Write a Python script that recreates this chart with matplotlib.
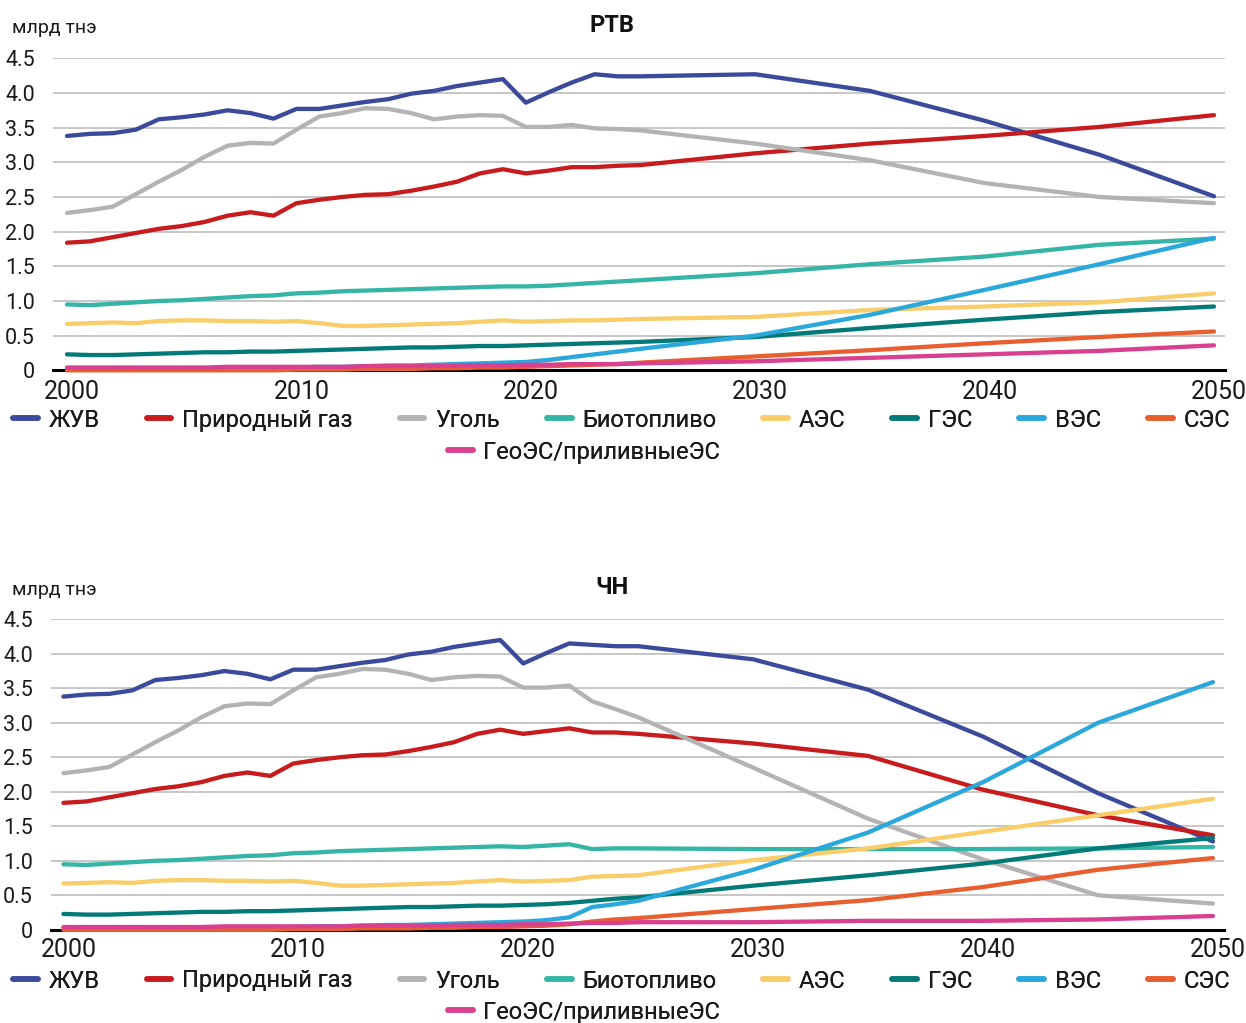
import matplotlib
matplotlib.use("Agg")
import matplotlib.pyplot as plt
from matplotlib.lines import Line2D
from matplotlib.transforms import ScaledTranslation

# ---------------- data ----------------
years = list(range(2000, 2026)) + [2030, 2035, 2040, 2045, 2050]

# historical 2000-2019 (shared by both scenarios)
oil_hist = [3.38, 3.41, 3.42, 3.47, 3.62, 3.65, 3.69, 3.75, 3.71, 3.63, 3.77, 3.77, 3.82, 3.87, 3.91, 3.99, 4.03, 4.10, 4.15, 4.20]
gas_hist = [1.84, 1.86, 1.92, 1.98, 2.04, 2.08, 2.14, 2.23, 2.28, 2.23, 2.41, 2.46, 2.50, 2.53, 2.54, 2.59, 2.65, 2.72, 2.84, 2.90]
coal_hist = [2.27, 2.31, 2.36, 2.54, 2.72, 2.89, 3.08, 3.24, 3.28, 3.27, 3.47, 3.66, 3.71, 3.78, 3.77, 3.71, 3.62, 3.66, 3.68, 3.67]
bio_hist = [0.95, 0.94, 0.96, 0.98, 1.00, 1.01, 1.03, 1.05, 1.07, 1.08, 1.11, 1.12, 1.14, 1.15, 1.16, 1.17, 1.18, 1.19, 1.20, 1.21]
npp_hist = [0.67, 0.68, 0.69, 0.68, 0.71, 0.72, 0.72, 0.71, 0.71, 0.70, 0.71, 0.68, 0.64, 0.64, 0.65, 0.66, 0.67, 0.68, 0.70, 0.72]
hydro_hist = [0.23, 0.22, 0.22, 0.23, 0.24, 0.25, 0.26, 0.26, 0.27, 0.27, 0.28, 0.29, 0.30, 0.31, 0.32, 0.33, 0.33, 0.34, 0.35, 0.35]
wind_hist = [0.01, 0.01, 0.01, 0.01, 0.02, 0.02, 0.02, 0.03, 0.03, 0.03, 0.04, 0.05, 0.05, 0.06, 0.07, 0.07, 0.08, 0.09, 0.10, 0.11]
solar_hist = [0.00, 0.00, 0.00, 0.00, 0.00, 0.00, 0.00, 0.00, 0.00, 0.00, 0.01, 0.01, 0.01, 0.02, 0.02, 0.02, 0.03, 0.03, 0.04, 0.04]
geo_hist = [0.04, 0.04, 0.04, 0.04, 0.04, 0.04, 0.04, 0.05, 0.05, 0.05, 0.05, 0.05, 0.05, 0.06, 0.06, 0.06, 0.06, 0.07, 0.07, 0.07]

# scenario РТВ: 2020-2025, 2030, 2035, 2040, 2045, 2050
oil_rtv = [3.86, 4.01, 4.15, 4.27, 4.24, 4.24, 4.27, 4.03, 3.60, 3.11, 2.51]
gas_rtv = [2.84, 2.88, 2.93, 2.93, 2.95, 2.96, 3.13, 3.27, 3.38, 3.51, 3.68]
coal_rtv = [3.51, 3.51, 3.54, 3.49, 3.48, 3.46, 3.27, 3.03, 2.70, 2.50, 2.41]
bio_rtv = [1.21, 1.22, 1.24, 1.26, 1.28, 1.30, 1.40, 1.53, 1.64, 1.81, 1.90]
npp_rtv = [0.70, 0.71, 0.72, 0.72, 0.73, 0.74, 0.77, 0.87, 0.92, 0.98, 1.11]
hydro_rtv = [0.36, 0.37, 0.38, 0.39, 0.40, 0.41, 0.48, 0.61, 0.73, 0.84, 0.92]
wind_rtv = [0.12, 0.15, 0.19, 0.23, 0.27, 0.31, 0.50, 0.80, 1.16, 1.53, 1.91]
solar_rtv = [0.05, 0.06, 0.07, 0.08, 0.09, 0.11, 0.20, 0.29, 0.39, 0.48, 0.56]
geo_rtv = [0.08, 0.08, 0.09, 0.09, 0.09, 0.10, 0.13, 0.18, 0.23, 0.28, 0.36]

# scenario ЧН
oil_ch = [3.86, 4.01, 4.15, 4.13, 4.11, 4.11, 3.92, 3.48, 2.80, 1.98, 1.28]
gas_ch = [2.84, 2.88, 2.92, 2.86, 2.86, 2.84, 2.70, 2.52, 2.03, 1.66, 1.37]
coal_ch = [3.51, 3.51, 3.54, 3.31, 3.20, 3.08, 2.35, 1.61, 1.02, 0.50, 0.38]
bio_ch = [1.20, 1.22, 1.24, 1.17, 1.18, 1.18, 1.17, 1.17, 1.17, 1.18, 1.20]
npp_ch = [0.70, 0.71, 0.72, 0.77, 0.78, 0.79, 1.01, 1.18, 1.42, 1.66, 1.90]
hydro_ch = [0.36, 0.37, 0.39, 0.42, 0.45, 0.47, 0.64, 0.79, 0.96, 1.18, 1.33]
wind_ch = [0.12, 0.14, 0.18, 0.33, 0.37, 0.42, 0.87, 1.41, 2.14, 3.00, 3.59]
solar_ch = [0.05, 0.06, 0.08, 0.12, 0.15, 0.17, 0.30, 0.43, 0.62, 0.87, 1.04]
geo_ch = [0.08, 0.08, 0.09, 0.10, 0.10, 0.11, 0.11, 0.13, 0.13, 0.15, 0.20]

names = ["ЖУВ", "Природный газ", "Уголь", "Биотопливо", "АЭС", "ГЭС", "ВЭС", "СЭС", "ГеоЭС/приливныеЭС"]
colors = ["#3c4a9c", "#c81b1d", "#b3b3b3", "#34b5a5", "#f8cd6a", "#047a78", "#2aa7db", "#e95e2f", "#d9408f"]

titles = ["РТВ", "ЧН"]
y_ticks = [0, 0.5, 1.0, 1.5, 2.0, 2.5, 3.0, 3.5, 4.0, 4.5]
y_tick_labels = ["0", "0.5", "1.0", "1.5", "2.0", "2.5", "3.0", "3.5", "4.0", "4.5"]
x_ticks = [2000, 2010, 2020, 2030, 2040, 2050]
unit_label = "млрд тнэ"

hist = [oil_hist, gas_hist, coal_hist, bio_hist, npp_hist, hydro_hist, wind_hist, solar_hist, geo_hist]
rtv = [oil_rtv, gas_rtv, coal_rtv, bio_rtv, npp_rtv, hydro_rtv, wind_rtv, solar_rtv, geo_rtv]
chn = [oil_ch, gas_ch, coal_ch, bio_ch, npp_ch, hydro_ch, wind_ch, solar_ch, geo_ch]

plt.rcParams["font.family"] = ["Roboto", "DejaVu Sans"]

W, H = 1246, 1023
fig = plt.figure(figsize=(W / 100, H / 100), dpi=100)

panels = [
    dict(rect=(53, 58.3, 1225, 370.3), xlim=(1999.39, 2050.48), title_y=26, unit_y=28,
         leg1_y=420, leg2_y=452, data=rtv, xpad=7),
    dict(rect=(51, 619.3, 1224, 929.8), xlim=(1999.46, 2050.48), title_y=587, unit_y=590,
         leg1_y=981, leg2_y=1012, data=chn, xpad=6),
]

for p, title in zip(panels, titles):
    x0, y0, x1, y1 = p["rect"]
    ax = fig.add_axes([x0 / W, 1 - y1 / H, (x1 - x0) / W, (y1 - y0) / H])
    for i, (nm, col) in enumerate(zip(names, colors)):
        vals = hist[i] + p["data"][i]
        ax.plot(years, vals, color=col, lw=3.1, solid_capstyle="round",
                solid_joinstyle="round", zorder=3 + i, clip_on=False)
    ax.set_xlim(*p["xlim"])
    ax.set_ylim(0, 4.5)
    ax.set_yticks(y_ticks)
    ax.set_yticklabels(y_tick_labels)
    ax.set_xticks(x_ticks)
    ax.set_xticklabels([str(x) for x in x_ticks])
    ax.grid(axis="y", color="#bdbdbd", lw=1.2, zorder=0)
    ax.set_axisbelow(True)
    for s in ["top", "right", "left"]:
        ax.spines[s].set_visible(False)
    ax.spines["bottom"].set_color("black")
    ax.spines["bottom"].set_linewidth(2.2)
    ax.spines["bottom"].set_zorder(2)
    ax.tick_params(axis="both", length=0)
    ax.tick_params(axis="y", pad=13, labelsize=15.5, labelcolor="#1a1a1a")
    ax.tick_params(axis="x", pad=p["xpad"], labelsize=18, labelcolor="#1a1a1a")
    for lab in ax.get_xticklabels():
        lab.set_transform(lab.get_transform() + ScaledTranslation(5 / 100, 0, fig.dpi_scale_trans))

    fig.text(612 / W, 1 - p["title_y"] / H, title, ha="center", va="center",
             fontsize=17, fontweight="bold", color="#111111")
    fig.text(12 / W, 1 - p["unit_y"] / H, unit_label, ha="left", va="center",
             fontsize=14, color="#1a1a1a")

    handles = [Line2D([0], [0], color=c, lw=4, solid_capstyle="round") for c in colors]
    leg1 = fig.legend(handles[:8], names[:8], ncol=8, mode="expand", loc="center",
                      bbox_to_anchor=(13 / W, 1 - (p["leg1_y"] + 15) / H, 1217 / W, 30 / H),
                      frameon=False, fontsize=17, handlelength=1.05, handletextpad=0.45,
                      borderaxespad=0, borderpad=0, labelcolor="#1a1a1a")
    fig.add_artist(leg1)
    leg2 = fig.legend(handles[8:], names[8:], loc="center",
                      bbox_to_anchor=(584 / W, 1 - p["leg2_y"] / H),
                      frameon=False, fontsize=17, handlelength=1.05, handletextpad=0.45,
                      borderaxespad=0, borderpad=0, labelcolor="#1a1a1a")
    fig.add_artist(leg2)

fig.savefig("out.png", dpi=100)
